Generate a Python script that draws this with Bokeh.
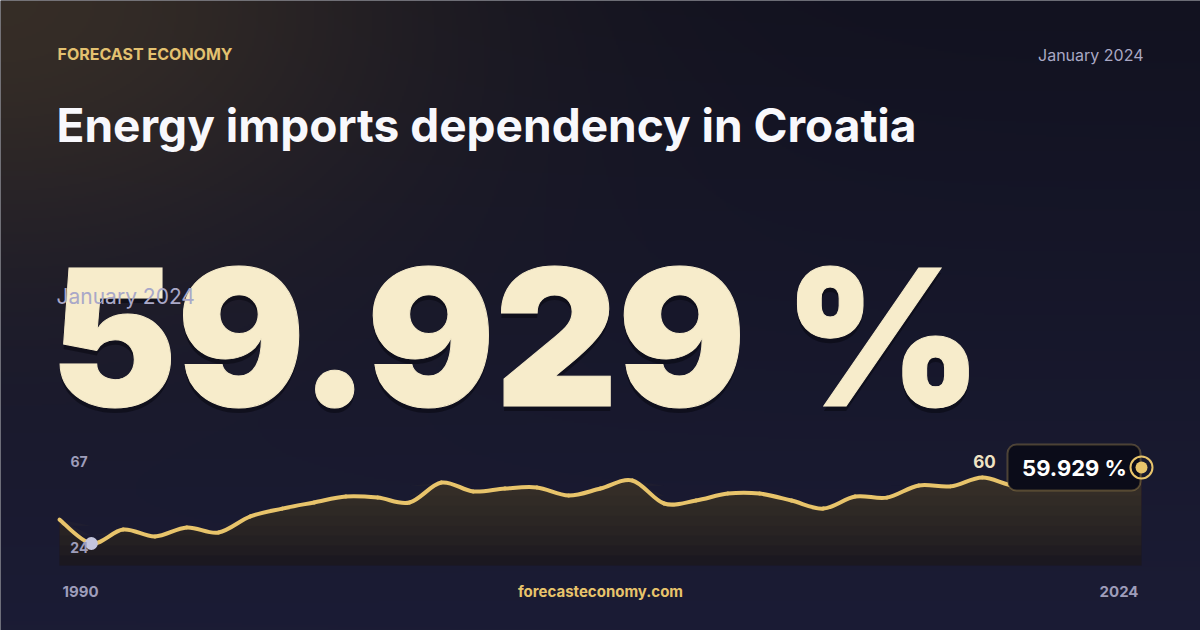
import numpy as np
from bokeh.plotting import figure
from bokeh.models import Label, BoxAnnotation, Range1d
from bokeh.embed import file_html
from bokeh.resources import INLINE

YEARS = [1990, 1991, 1992, 1993, 1994, 1995, 1996, 1997, 1998, 1999,
         2000, 2001, 2002, 2003, 2004, 2005, 2006, 2007, 2008, 2009,
         2010, 2011, 2012, 2013, 2014, 2015, 2016, 2017, 2018, 2019,
         2020, 2021, 2022, 2023, 2024]
VALUES = [35.3, 24.0, 30.6, 27.3, 31.6, 29.2, 36.8, 40.5, 43.4, 46.2,
          45.7, 43.4, 52.8, 48.6, 50.0, 50.5, 46.7, 50.0, 53.8, 42.9,
          44.3, 47.6, 47.6, 44.3, 40.5, 46.2, 45.7, 51.4, 51.0, 55.2,
          51.4, 53.5, 57.8, 56.6, 59.929]
CURRENT_LABEL = "59.929 %"
PERIOD = "January 2024"
Y_TOP_LABEL = "67"
BRAND = "FORECAST ECONOMY"
TITLE = "Energy imports dependency in Croatia"
SITE = "forecasteconomy.com"

GOLD = "#e8c46b"
GREY = "#9e9dba"
FONT = "Inter"

W, H = 1200, 630

# chart placement on the card (pixels)
X_LEFT, X_RIGHT = 59, 1141
Y_MIN_PX, Y_LAST_PX, Y_FLOOR_PX = 543, 467, 565

vmin = min(VALUES)
vlast = VALUES[-1]
ppy = (X_RIGHT - X_LEFT) / (YEARS[-1] - YEARS[0])
ppu = (Y_MIN_PX - Y_LAST_PX) / (vlast - vmin)

x_start = YEARS[0] - X_LEFT / ppy
x_end = x_start + W / ppy
y_end = vmin + Y_MIN_PX / ppu
y_start = vmin - (H - Y_MIN_PX) / ppu
floor = vmin - (Y_FLOOR_PX - Y_MIN_PX) / ppu

p = figure(width=W, height=H, output_backend="svg", toolbar_location=None,
           x_range=Range1d(x_start, x_end), y_range=Range1d(y_start, y_end),
           x_axis_location=None, y_axis_location=None, min_border=0)
p.grid.visible = False
p.outline_line_color = None
p.background_fill_color = "#171829"
p.border_fill_color = "#171829"

# background: navy with a warm glow in the top left corner
bh, bw = H // 2, W // 2
rows = np.arange(bh)[:, None]
cols = np.arange(bw)[None, :]
cy = H - (rows + 0.5) * 2       # card y of each row (row 0 = bottom)
cx = (cols + 0.5) * 2
t = cy / H
top = np.array([18, 18, 32.0])
bot = np.array([27, 28, 53.0])
glow = np.array([60, 50, 40.0])
g = 0.85 * np.exp(-((cx / 430.0) ** 2 + (cy / 270.0) ** 2))
rgb = np.empty((bh, bw, 3))
for k in range(3):
    base = top[k] + (bot[k] - top[k]) * t
    rgb[..., k] = base * (1 - g) + glow[k] * g
img = np.empty((bh, bw), dtype=np.uint32)
view = img.view(dtype=np.uint8).reshape((bh, bw, 4))
view[..., :3] = np.clip(rgb, 0, 255).astype(np.uint8)
view[..., 3] = 255
p.image_rgba(image=[img], x=x_start, y=y_start, dw=x_end - x_start, dh=y_end - y_start)

# area under the line, stacked layers give a soft vertical fade
p.varea(x=YEARS, y1=floor, y2=VALUES, fill_color="#16141f")
for lvl in np.linspace(floor, 56, 10):
    p.varea(x=YEARS, y1=lvl, y2=np.maximum(VALUES, lvl), fill_color="#51422f", fill_alpha=0.1)

# smooth line: one cubic segment per year, catmull-rom control points
xs = np.array(YEARS, dtype=float)
ys = np.array(VALUES)
xp = np.concatenate([[xs[0]], xs, [xs[-1]]])
yp = np.concatenate([[ys[0]], ys, [ys[-1]]])
cx0 = xs[:-1] + (xp[2:-1] - xp[:-3]) / 6
cy0 = ys[:-1] + (yp[2:-1] - yp[:-3]) / 6
cx1 = xs[1:] - (xp[3:] - xp[1:-2]) / 6
cy1 = ys[1:] - (yp[3:] - yp[1:-2]) / 6
p.bezier(x0=xs[:-1], y0=ys[:-1], x1=xs[1:], y1=ys[1:],
         cx0=cx0, cy0=cy0, cx1=cx1, cy1=cy1,
         line_color=GOLD, line_width=4, line_cap="round")

imin = int(np.argmin(VALUES))
p.scatter([YEARS[imin]], [VALUES[imin]], size=13, fill_color="#c4c5dd", line_color=None)

# tooltip box on the last value
box = BoxAnnotation(left=YEARS[-1] - 134 / ppy, right=YEARS[-1] - 1 / ppy,
                    bottom=vlast - 23 / ppu, top=vlast + 23 / ppu,
                    fill_color="#0b0c19", fill_alpha=1, line_color="#d8b35f",
                    line_width=2, border_radius=9)
p.add_layout(box)
p.add_layout(Label(x=YEARS[-1] - 67 / ppy, y=vlast, text=CURRENT_LABEL,
                   text_align="center", text_baseline="middle", text_color="#ffffff",
                   text_font=FONT, text_font_style="bold", text_font_size="22px"))

r1 = p.scatter([YEARS[-1]], [vlast], size=22, fill_color=None, line_color=GOLD, line_width=2)
r2 = p.scatter([YEARS[-1]], [vlast], size=12, fill_color=GOLD, line_color=None)
r1.level = "overlay"
r2.level = "overlay"

# min / max labels
p.add_layout(Label(x=YEARS[imin], y=VALUES[imin], x_offset=-21, y_offset=-4,
                   text=str(round(vmin)), text_align="left", text_baseline="middle",
                   text_color=GREY, text_font=FONT, text_font_style="bold", text_font_size="14px"))
p.add_layout(Label(x=YEARS[-1], y=vlast, x_offset=-157, y_offset=6,
                   text=str(round(max(VALUES))), text_align="center", text_baseline="middle",
                   text_color="#efe3c4", text_font=FONT, text_font_style="bold", text_font_size="17px"))


def card_label(x, y, text, **kw):
    # x, y in card pixels (top-left origin)
    p.add_layout(Label(x=x, y=H - y, x_units="screen", y_units="screen",
                       text=text, text_font=kw.pop("font", FONT),
                       text_baseline=kw.pop("baseline", "middle"), **kw))


card_label(70, 461, Y_TOP_LABEL, text_color=GREY,
           text_font_style="bold", text_font_size="14px")
card_label(62, 591, str(YEARS[0]), text_color=GREY,
           text_font_style="bold", text_font_size="15px")
card_label(1138, 591, str(YEARS[-1]), text_align="right",
           text_color=GREY, text_font_style="bold", text_font_size="15px")
card_label(600, 591, SITE, text_align="center",
           text_color=GOLD, text_font_style="bold", text_font_size="15px")

card_label(57, 53, BRAND, text_color="#e3c170",
           text_font_style="bold", text_font_size="16px")
card_label(1143, 54, PERIOD, text_align="right",
           text_color="#a9a8c4", text_font_size="16px")
card_label(56, 124, TITLE, text_color="#f8f8fc",
           text_font_style="bold", text_font_size="46px")

# big number with a faint shadow; an outline makes the glyphs heavier
heavy = {}
if "text_outline_color" in Label.properties():
    heavy = {"text_outline_color": "#f7eccb"}
card_label(50, 341, CURRENT_LABEL, font="Inter Black",
           text_color="#05050c", text_alpha=0.45, text_font_style="bold", text_font_size="190px")
card_label(50, 336, CURRENT_LABEL, font="Inter Black",
           text_color="#f7eccb", text_font_style="bold", text_font_size="190px", **heavy)
card_label(56, 296, PERIOD, text_color="#a9a8c8", text_font_size="21px")

open("out.html", "w").write(file_html(p, INLINE))
